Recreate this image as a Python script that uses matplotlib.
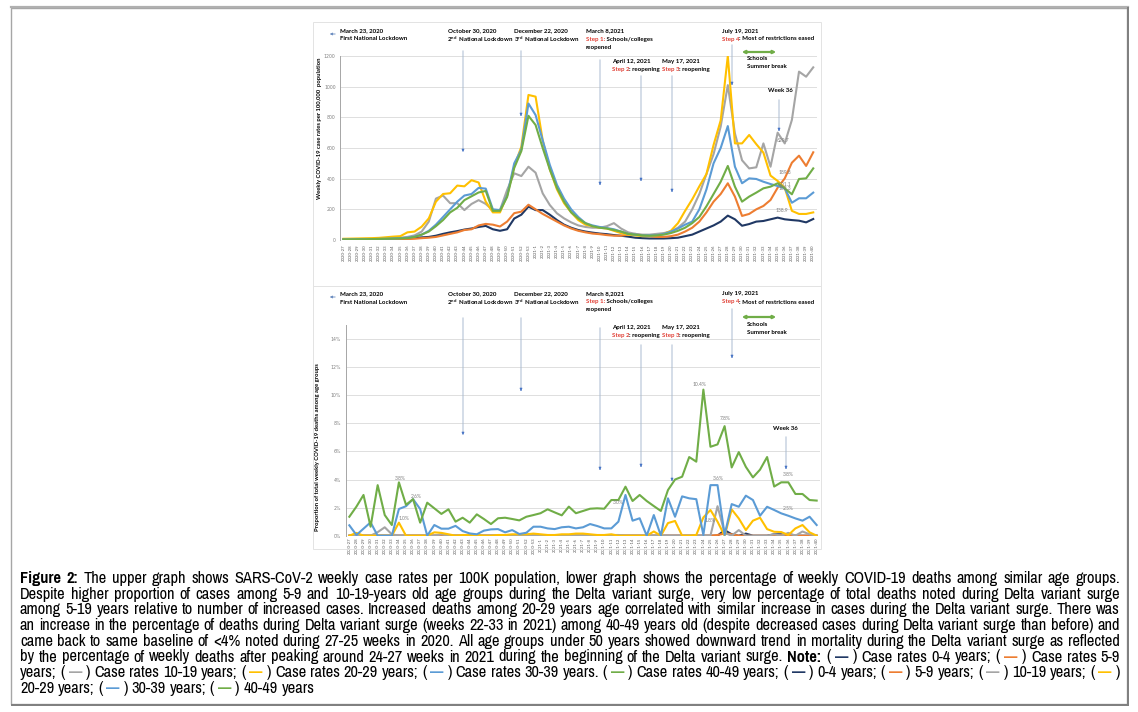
import matplotlib
matplotlib.use("Agg")
import matplotlib.pyplot as plt
import matplotlib.transforms as mtransforms
from matplotlib.patches import Rectangle, FancyArrowPatch
from matplotlib.font_manager import FontProperties, findfont

W, H = 1138, 712

weeks = ["2020-%d" % w for w in range(27, 54)] + ["2021-%d" % w for w in range(1, 41)]

colors = ["#203864", "#ED7D31", "#A5A5A5", "#FFC000", "#5B9BD5", "#70AD47"]

# weekly case rates per 100k (upper graph)
cases_0_4 = [3, 3, 4, 4, 5, 5, 6, 7, 8, 10, 14, 17, 20, 28, 40, 50, 58, 68, 75, 85, 92, 70, 60, 70, 140, 165, 218,
             195, 195, 165, 130, 100, 80, 65, 55, 48, 42, 38, 32, 28, 22, 15, 12, 10, 10, 10, 12, 15, 25, 35, 55, 75,
             95, 120, 159, 135, 93, 104, 120, 124, 135, 146, 135, 130, 126, 115, 137]
cases_5_9 = [2, 2, 2, 3, 3, 4, 4, 5, 5, 6, 8, 12, 15, 20, 30, 40, 50, 65, 70, 95, 105, 100, 88, 120, 175, 185, 230,
             200, 170, 145, 120, 95, 75, 60, 50, 42, 38, 32, 28, 28, 35, 40, 30, 25, 20, 20, 25, 35, 55, 80, 120, 180,
             250, 300, 370, 283, 157, 170, 200, 222, 261, 341, 402, 504, 550, 483, 572]
cases_10_19 = [5, 5, 6, 7, 8, 9, 10, 12, 15, 20, 30, 55, 120, 270, 290, 240, 240, 195, 235, 260, 235, 195, 195, 326,
               435, 417, 478, 439, 304, 228, 174, 141, 115, 95, 85, 80, 80, 90, 110, 75, 50, 40, 35, 35, 40, 45, 55,
               80, 120, 200, 300, 430, 560, 740, 1010, 695, 520, 467, 474, 630, 478, 700, 629.7, 783, 1098, 1065, 1126]
cases_20_29 = [8, 9, 10, 11, 12, 14, 18, 22, 25, 50, 55, 87, 141, 250, 300, 305, 355, 350, 390, 375, 250, 180, 180, 290,
               478, 609, 946, 935, 650, 460, 330, 240, 180, 130, 100, 90, 80, 75, 60, 45, 35, 30, 25, 25, 30, 40, 60,
               110, 190, 265, 350, 430, 620, 780, 1200, 630, 630, 685, 625, 570, 420, 385, 340, 190, 170, 170, 180]
cases_30_39 = [4, 4, 5, 5, 6, 7, 8, 10, 12, 15, 22, 35, 60, 100, 150, 200, 250, 290, 300, 340, 335, 200, 195, 290, 500,
               590, 890, 815, 650, 490, 360, 270, 200, 150, 110, 95, 85, 78, 70, 55, 40, 35, 30, 30, 32, 40, 55, 75,
               100, 120, 200, 330, 500, 600, 743, 478, 370, 402, 398, 380, 365, 352, 337, 243, 272, 272, 309]
cases_40_49 = [4, 4, 5, 5, 6, 7, 8, 9, 10, 12, 20, 35, 55, 90, 130, 180, 210, 260, 285, 310, 320, 190, 190, 280, 470,
               580, 810, 750, 600, 460, 340, 250, 180, 140, 110, 90, 80, 75, 65, 55, 40, 35, 30, 28, 30, 35, 45, 60,
               80, 110, 150, 220, 300, 380, 483, 348, 250, 283, 309, 337, 348, 370, 337, 298, 398, 402, 467]

# share of weekly COVID-19 deaths, % (lower graph)
deaths_0_4 = [0] * 53 + [0.4, 0.1, 0, 0.15, 0, 0, 0, 0.1, 0.1, 0, 0, 0, 0, 0]
deaths_5_9 = [0] * 52 + [0.05, 0.15, 0.1, 0, 0, 0, 0, 0, 0, 0.05, 0.05, 0, 0, 0, 0]
deaths_10_19 = [0, 0, 0, 0, 0.25, 0.6, 0.1, 0, 0, 0, 0, 0, 0, 0.1, 0, 0, 0, 0, 0, 0, 0, 0, 0, 0, 0, 0, 0, 0, 0, 0, 0,
                0, 0, 0, 0, 0, 0, 0.05, 0.05, 0, 0, 0, 0, 0, 0, 0, 0, 0, 0, 0, 0, 0, 2.1, 0.2, 0, 0.4, 0, 0, 0, 0, 0.1,
                0, 0.2, 0, 0.3, 0.1, 0]
deaths_20_29 = [0, 0.2, 0, 0, 0, 0, 0, 0.93, 0, 0, 0, 0, 0.24, 0.2, 0.1, 0, 0.05, 0.05, 0.05, 0, 0, 0.05, 0.05, 0.1,
                0.1, 0.1, 0.15, 0.1, 0.05, 0.05, 0.1, 0.1, 0.15, 0.15, 0.1, 0.05, 0.05, 0.1, 0, 0, 0, 0, 0, 0.3, 0,
                0.9, 1.05, 0, 0, 0.05, 1.3, 1.83, 1.0, 0, 1.87, 1.23, 0.4, 1.07, 1.28, 0.47, 0.28, 0.26, 0.05, 0.52,
                0.76, 0.24, 0]
deaths_30_39 = [0.74, 0.05, 0.5, 0.95, 0, 0, 0, 1.9, 2.1, 2.6, 1.9, 0, 0.76, 0.5, 0.5, 0.7, 0.33, 0.16, 0.1, 0.36,
                0.45, 0.47, 0.24, 0.4, 0.12, 0.21, 0.64, 0.64, 0.52, 0.47, 0.6, 0.64, 0.52, 0.6, 0.83, 0.69, 0.52, 0.52,
                1.0, 2.9, 1.07, 1.24, 0, 1.47, 0, 2.66, 1.35, 2.8, 2.66, 2.6, 0.05, 3.6, 3.6, 0.05, 2.25, 2.06, 2.85,
                2.54, 1.42, 2.06, 1.83, 1.59, 1.42, 1.23, 1.07, 1.35, 0.76]
deaths_40_49 = [1.35, 2.07, 2.9, 0.64, 3.6, 1.47, 0.76, 3.8, 2.2, 2.6, 0.93, 2.35, 1.95, 1.55, 1.88, 1.0, 1.28, 0.93,
                1.52, 1.19, 0.83, 1.24, 1.28, 1.19, 1.09, 1.35, 1.47, 1.6, 1.88, 1.66, 1.45, 2.07, 1.6, 1.76, 1.92,
                1.95, 1.92, 2.54, 2.54, 3.49, 2.47, 2.9, 2.47, 2.11, 1.76, 3.25, 4.0, 4.2, 5.6, 5.27, 10.4, 6.33, 6.5,
                7.8, 4.86, 5.95, 4.9, 4.15, 4.7, 5.6, 3.5, 3.8, 3.8, 2.97, 2.97, 2.54, 2.5]

cases = [cases_0_4, cases_5_9, cases_10_19, cases_20_29, cases_30_39, cases_40_49]
deaths = [deaths_0_4, deaths_5_9, deaths_10_19, deaths_20_29, deaths_30_39, deaths_40_49]

CHART_FONT = "Lato"
# caption is set in a condensed Arial-like face when one is installed
CAP_FONT, cap_size = "Liberation Sans", 9.7
for name in ["Liberation Sans Narrow", "Arial Narrow", "Pragati Narrow", "Roboto Condensed",
             "Archivo Narrow", "PT Sans Narrow", "Sofia Sans Condensed"]:
    try:
        findfont(FontProperties(family=name), fallback_to_default=False)
        CAP_FONT, cap_size = name, 12.5
        break
    except Exception:
        pass
plt.rcParams["mathtext.fontset"] = "custom"
plt.rcParams["mathtext.rm"] = "Lato"
plt.rcParams["mathtext.bf"] = "Lato:bold"

fig = plt.figure(figsize=(W / 100, H / 100), dpi=100)
PX = mtransforms.Affine2D().scale(1.0 / W, -1.0 / H).translate(0, 1) + fig.transFigure
renderer = fig.canvas.get_renderer()


def px_axes(x0, x1, y_top, y_bot):
    return fig.add_axes([x0 / W, 1 - y_bot / H, (x1 - x0) / W, (y_bot - y_top) / H])


def style(ax, ymax, yticks, labels, xpad, ypad):
    ax.set_xlim(-0.5, len(weeks) - 0.5)
    ax.set_ylim(0, ymax)
    ax.set_yticks(yticks)
    ax.set_yticklabels(labels)
    ax.grid(axis="y", color="#D9D9D9", lw=0.6)
    ax.set_axisbelow(True)
    for s in ["top", "right", "bottom"]:
        ax.spines[s].set_visible(False)
    ax.spines["left"].set_color("#A6A6A6")
    ax.spines["left"].set_linewidth(0.7)
    ax.set_xticks(range(len(weeks)))
    ax.set_xticklabels(weeks, rotation=90, fontsize=3.1, color="#595959", family=CHART_FONT)
    ax.tick_params(length=0)
    ax.tick_params(axis="x", pad=xpad)
    ax.tick_params(axis="y", labelsize=3.3, labelcolor="#808080", pad=ypad)
    ax.patch.set_alpha(0)


ax1 = px_axes(339.8, 816.8, 56, 240)
ax2 = px_axes(345.8, 820.2, 325, 535.7)

for data, c in zip(cases, colors):
    ax1.plot(range(len(weeks)), data, color=c, lw=1.5, solid_joinstyle="round", zorder=3)
for data, c in zip(deaths, colors):
    ax2.plot(range(len(weeks)), data, color=c, lw=1.5, solid_joinstyle="round", zorder=3)

style(ax1, 1200, range(0, 1201, 200), [str(v) for v in range(0, 1201, 200)], 3, 3)
style(ax2, 15, range(0, 15, 2), ["%d%%" % v for v in range(0, 15, 2)], 1.5, 3.5)

# frames
fig.add_artist(Rectangle((11, 8), 1116, 696, transform=PX, fill=False, ec="#A6A6A6", lw=1.0))
fig.add_artist(plt.Line2D([11, 1128], [6.5, 6.5], transform=PX, color="#B0B0B0", lw=1.6))
fig.add_artist(plt.Line2D([1128, 1128], [8, 705], transform=PX, color="#7F7F7F", lw=1.4))
fig.add_artist(plt.Line2D([12, 1128], [705, 705], transform=PX, color="#7F7F7F", lw=1.4))
fig.add_artist(Rectangle((313, 22), 508, 264, transform=PX, fill=False, ec="#E3E3E3", lw=0.7))
fig.add_artist(Rectangle((313, 286), 508, 263, transform=PX, fill=False, ec="#E3E3E3", lw=0.7))


def text_width(s, prop):
    w1, _, _ = renderer.get_text_width_height_descent("|" + s + "|", prop, ismath=False)
    w0, _, _ = renderer.get_text_width_height_descent("||", prop, ismath=False)
    return w1 - w0


def ftext(x, y, s, color="black", size=4.4, weight="bold", **kw):
    return fig.text(x, y, s, transform=PX, color=color, fontsize=size, fontweight=weight,
                    family=CHART_FONT, va="center", ha="left", **kw)


def two_color(x, y, red, rest, size=4.4):
    ftext(x, y, red, color="#E03C31", size=size)
    w = text_width(red, FontProperties(family=CHART_FONT, size=size, weight="bold"))
    ftext(x + w, y, rest, size=size)


def arrow(x, y0, y1):
    fig.add_artist(FancyArrowPatch((x, y0), (x, y1), transform=PX, arrowstyle="-",
                                   color="#A9BBD0", lw=0.7))
    fig.add_artist(FancyArrowPatch((x, y1 - 4), (x, y1), transform=PX, arrowstyle="-|>",
                                   mutation_scale=3.5, color="#4472C4", lw=0.6))


def events(dy, apr_y, arrows, wk_text, wk_arrow, green_y, school_y):
    ftext(340, 31 + dy, "March 23, 2020")
    ftext(340, 39 + dy, "First National Lockdown")
    fig.add_artist(FancyArrowPatch((338, 34 + dy), (327, 34 + dy), transform=PX, arrowstyle="-|>",
                                   mutation_scale=3.5, color="#6A8CC0", lw=0.6))
    ftext(448, 31 + dy, "October 30, 2020")
    ftext(447, 39 + dy, r"2$^{\mathbf{nd}}$  National Lockdown")
    ftext(514, 31 + dy, "December 22, 2020")
    ftext(514, 39 + dy, r"3$^{\mathbf{rd}}$  National Lockdown")
    ftext(586, 31 + dy, "March 8,2021")
    two_color(586, 39 + dy, "Step 1:", " Schools/colleges")
    ftext(586, 47 + dy, "reopened")
    ftext(612, apr_y, "April 12, 2021")
    two_color(612, apr_y + 8, "Step 2", ": reopening")
    ftext(662, apr_y, "May 17, 2021")
    two_color(662, apr_y + 8, "Step 3", ": reopening")
    ftext(722, 31 + dy, "July 19, 2021")
    two_color(722, 39 + dy, "Step 4", ": Most of restrictions eased")
    fig.add_artist(FancyArrowPatch((739, green_y), (779, green_y), transform=PX, arrowstyle="<|-|>",
                                   mutation_scale=4, color="#70AD47", lw=1.6))
    ftext(747, school_y, "Schools")
    ftext(747, school_y + 8, "Summer break")
    ftext(wk_text[0], wk_text[1], "Week 36")
    for x, y0, y1 in arrows:
        arrow(x, y0, y1)
    arrow(*wk_arrow)


events(0, 61, [(463, 48, 152), (521, 48, 116), (600, 57, 185), (641, 73, 181), (672, 73, 192), (732, 42, 85)],
       (768, 91), (779, 97, 131), 52, 59)
events(263, 328, [(463, 315, 435), (521, 315, 391), (600, 325, 470), (641, 342, 467), (672, 342, 481),
                  (732, 306, 358)], (773, 428), (786, 434, 469), 317, 324)

ylab_kw = dict(transform=PX, rotation=90, ha="center", va="center", fontsize=4.2, fontweight="bold",
               family=CHART_FONT)
fig.text(320, 128, "Weekly COVID-19 case rates per 100,000  population", **ylab_kw)
fig.text(318, 447, "Proportion of total weekly COVID-19 deaths among age groups", **ylab_kw)

# value labels
lab_kw = dict(transform=PX, ha="center", va="center", fontsize=3.6, color="#7F7F7F", family=CHART_FONT)
for x, y, s in [(783, 140, "629.7"), (785, 173, "189.8"), (785, 184, "201.1"), (785, 188.5, "182.3"),
                (782, 211, "138.9")]:
    fig.text(x, y, s, **lab_kw)
for x, y, s in [(400, 479, "3.8%"), (416, 497, "2.6%"), (404, 519, "1.0%"), (618, 503, "3.0%"),
                (700, 384, "10.4%"), (725, 419, "7.8%"), (718, 478, "3.6%"), (710, 521, "1.8%"),
                (788, 475, "3.8%"), (788, 508, "2.5%")]:
    fig.text(x, y, s, **lab_kw)

# caption
caption = [
    "*Figure *2: The upper graph shows SARS-CoV-2 weekly case rates per 100K population, lower graph shows the "
    "percentage of weekly COVID-19 deaths among similar age groups.",
    "Despite higher proportion of cases among 5-9 and 10-19-years old age groups during the Delta variant surge, "
    "very low percentage of total deaths noted during Delta variant surge",
    "among 5-19 years relative to number of increased cases.  Increased deaths among 20-29 years age correlated "
    "with similar increase in cases during the Delta variant surge. There was",
    "an increase in the percentage of deaths during Delta variant surge (weeks 22-33 in 2021) among 40-49 years old "
    "(despite decreased cases during Delta variant surge than before) and",
    "came back to same baseline of <4% noted during 27-25 weeks in 2020. All age groups under 50 years showed "
    "downward trend in mortality during the Delta variant surge as reflected",
    "by the percentage of weekly deaths after peaking around 24-27 weeks in 2021 during the beginning of the Delta "
    "variant surge. *Note: ( #0 ) Case rates 0-4 years; ( #1 ) Case rates 5-9",
    "years; ( #2 ) Case rates 10-19 years; ( #3 ) Case rates 20-29 years; ( #4 ) Case rates 30-39 years. ( #5 ) "
    "Case rates 40-49 years; ( #0 ) 0-4 years; ( #1 ) 5-9 years; ( #2 ) 10-19 years; ( #3 )",
    "20-29 years; ( #4 ) 30-39 years; ( #5 ) 40-49 years",
]


def tokens_of(line):
    out = []
    for t in line.split():
        if t.startswith("*"):
            out.append((t[1:], "black", "bold"))
        elif t.startswith("#"):
            out.append(("\u2014", colors[int(t[1:])], "bold"))
        else:
            out.append((t, "black", "normal"))
    return out


X_LEFT, X_RIGHT = 20, 1120
cap_lines = [tokens_of(l) for l in caption]


def natural(toks, size):
    sp = text_width(" ", FontProperties(family=CAP_FONT, size=size))
    return sum(text_width(t, FontProperties(family=CAP_FONT, size=size, weight=w)) for t, _, w in toks) + \
        sp * (len(toks) - 1)


# size the caption so its widest line fills the text block with ordinary word spacing
widest = max(natural(t, cap_size) for t in cap_lines[:-1])
cap_size = min(cap_size * (X_RIGHT - X_LEFT) / widest * 0.995, 14)

for k, toks in enumerate(cap_lines):
    y = 583 + 15.7 * k
    widths = [text_width(t, FontProperties(family=CAP_FONT, size=cap_size, weight=w)) for t, _, w in toks]
    if k < len(cap_lines) - 1:
        gap = (X_RIGHT - X_LEFT - sum(widths)) / (len(toks) - 1)
    else:
        gap = text_width(" ", FontProperties(family=CAP_FONT, size=cap_size))
    x = X_LEFT
    for (t, c, w), wd in zip(toks, widths):
        fig.text(x, y, t, transform=PX, color=c, fontweight=w, fontsize=cap_size, family=CAP_FONT,
                 va="baseline", ha="left")
        x += wd + gap

fig.savefig("out.png", dpi=100)
